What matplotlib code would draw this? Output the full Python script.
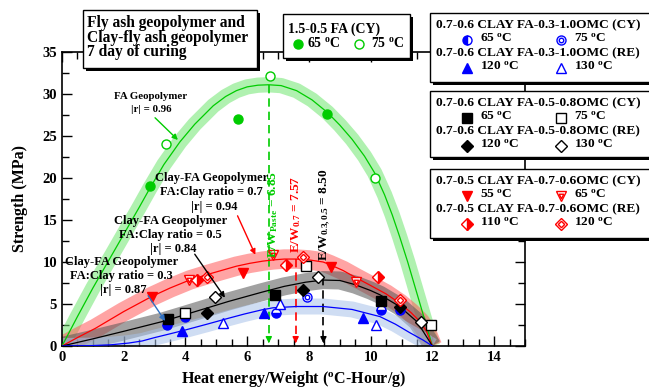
import matplotlib

matplotlib.use("Agg")
import matplotlib.pyplot as plt
from matplotlib.patches import Rectangle

plt.rcParams["font.family"] = ["Liberation Serif", "DejaVu Serif"]
plt.rcParams["font.weight"] = "bold"
plt.rcParams["axes.labelweight"] = "bold"
plt.rcParams["mathtext.fontset"] = "custom"
plt.rcParams["mathtext.rm"] = "Liberation Serif:bold"
plt.rcParams["mathtext.bf"] = "Liberation Serif:bold"
plt.rcParams["mathtext.it"] = "Liberation Serif:bold:italic"

# fitted curves
fa_fit_x = [0, 0.5, 1.0, 1.5, 2.0, 2.5, 2.85, 3.3, 3.82, 4.3, 4.9, 5.3, 5.65, 6.0, 6.35, 6.7,
            7.1, 7.6, 8.1, 8.6, 9.0, 9.4, 9.8, 10.13, 10.45, 10.7, 10.94, 11.2, 11.4, 11.6, 11.8, 12.0]
fa_fit_y = [0, 3.5, 6.9, 10.1, 13.3, 16.5, 18.8, 21.6, 24.3, 26.4, 28.6, 29.7, 30.4, 30.85, 31.05, 31.1,
            31.0, 30.4, 29.3, 27.8, 26.3, 24.6, 22.6, 20.6, 18.0, 15.6, 13.0, 10.0, 7.5, 5.0, 2.5, 0]
r07_fit_x = [0, 0.5, 1.08, 2.0, 2.91, 3.5, 4.14, 4.7, 5.22, 5.65, 6.08, 6.5, 6.84, 7.2, 7.6, 8.0,
             8.46, 8.67, 9.1, 9.54, 10.0, 10.5, 10.94, 11.3, 11.6, 11.8, 12.0]
r07_fit_y = [0, 1.0, 2.1, 4.1, 5.9, 6.9, 7.86, 8.5, 9.05, 9.5, 9.84, 10.1, 10.25, 10.35, 10.35, 10.25,
             10.0, 9.7, 9.0, 8.1, 7.2, 6.2, 5.1, 4.0, 2.9, 1.8, 0]
r05_fit_x = [0, 1.0, 2.0, 3.24, 4.14, 5.39, 6.47, 7.2, 7.9, 8.46, 9.0, 9.5, 10.0, 10.3, 10.94, 11.5, 12.0]
r05_fit_y = [0, 0.85, 1.75, 2.9, 3.9, 5.3, 6.4, 7.1, 7.6, 7.85, 7.8, 7.3, 6.6, 6.1, 4.7, 2.9, 0]
r03_fit_x = [0, 1.0, 1.6, 2.16, 2.6, 3.0, 3.5, 3.99, 4.7, 5.39, 5.9, 6.47, 6.84, 7.6, 8.46, 9.4,
             10.3, 10.8, 11.26, 11.7, 12.0]
r03_fit_y = [0, 0.05, 0.15, 0.35, 0.6, 1.0, 1.45, 1.9, 2.6, 3.3, 3.8, 4.3, 4.55, 4.7, 4.7, 4.35,
             3.5, 2.6, 1.6, 0.7, 0]

# measured points
fa65_x = [2.85, 5.71, 8.57]
fa65_y = [19.0, 27.0, 27.6]
fa75_x = [3.37, 6.73, 10.13]
fa75_y = [24.1, 32.1, 20.0]

blue_cy65_x = [3.4, 3.98, 6.93, 10.35, 10.94]
blue_cy65_y = [2.5, 3.5, 3.9, 4.3, 4.3]
blue_cy75_x = [7.95]
blue_cy75_y = [5.87]
blue_re120_x = [3.88, 6.54, 9.75]
blue_re120_y = [1.8, 3.9, 3.3]
blue_re130_x = [5.23, 7.05, 10.18]
blue_re130_y = [2.7, 5.0, 2.5]

black_cy65_x = [3.45, 6.89, 10.35]
black_cy65_y = [3.17, 6.07, 5.3]
black_cy75_x = [3.99, 7.92, 11.96]
black_cy75_y = [3.97, 9.5, 2.5]
black_re120_x = [4.69, 7.81, 10.94]
black_re120_y = [3.97, 6.67, 4.68]
black_re130_x = [4.96, 8.29, 11.64]
black_re130_y = [5.87, 8.25, 2.9]

red_cy55_x = [2.91, 5.87, 8.73]
red_cy55_y = [5.87, 8.7, 9.44]
red_cy65_x = [4.1, 6.84, 9.54]
red_cy65_y = [7.8, 10.8, 7.66]
red_re110_x = [4.37, 7.27, 10.24]
red_re110_y = [7.8, 9.64, 8.25]
red_re120_x = [4.69, 7.81, 10.94]
red_re120_y = [8.2, 10.6, 5.5]

# optimum heat energy per weight
ew_labels = [r"E/W$_{\rm Paste}$ = 6.85", r"E/W$_{\rm 0.7}$ = 7.57", r"E/W$_{\rm 0.3,0.5}$ = 8.50"]
ew_x = [6.7, 7.57, 8.47]
ew_top = [31.1, 10.4, 8.2]

GREEN = "#00cc00"
RED = "#ff0000"
BLUE = "#0000ff"


def mark(ax, x, y, marker, color, filled=True, inner=False, half=None, ms=6.5):
    kw = dict(ls="none", marker=marker, ms=ms, mec=color, mew=1.0, zorder=6)
    if half:
        ax.plot(x, y, fillstyle=half, mfc=color, mfcalt="white", **kw)
    else:
        ax.plot(x, y, mfc=color if filled else "white", **kw)
    if inner:
        kw["ms"] = ms * 0.5
        kw["zorder"] = 7
        ax.plot(x, y, mfc="white", **kw)


fig = plt.figure(figsize=(6.49, 3.92), dpi=100)
ax = fig.add_axes([62 / 649, 1 - 346 / 392, (525 - 62) / 649, (346 - 52) / 392])

bands = [
    (fa_fit_x, fa_fit_y, GREEN, "#70e670", 11),
    (r07_fit_x, r07_fit_y, RED, "#ff5a5a", 14),
    (r05_fit_x, r05_fit_y, "black", "#555555", 13),
    (r03_fit_x, r03_fit_y, BLUE, "#a8c2ea", 11.5),
]
for fx, fy, lc, bc, bw in bands:
    ax.plot(fx, fy, color=bc, lw=bw, alpha=0.55, solid_capstyle="butt",
            solid_joinstyle="round", zorder=2)
for fx, fy, lc, bc, bw in bands:
    ax.plot(fx, fy, color=lc, lw=0.9, zorder=4)

mark(ax, fa65_x, fa65_y, "o", GREEN)
mark(ax, fa75_x, fa75_y, "o", GREEN, filled=False)
mark(ax, blue_cy65_x, blue_cy65_y, "o", BLUE, half="bottom")
mark(ax, blue_cy75_x, blue_cy75_y, "o", BLUE, filled=False, inner=True)
mark(ax, blue_re120_x, blue_re120_y, "^", BLUE)
mark(ax, blue_re130_x, blue_re130_y, "^", BLUE, filled=False)
mark(ax, black_cy65_x, black_cy65_y, "s", "black")
mark(ax, black_cy75_x, black_cy75_y, "s", "black", filled=False)
mark(ax, black_re120_x, black_re120_y, "D", "black")
mark(ax, black_re130_x, black_re130_y, "D", "black", filled=False)
mark(ax, red_cy55_x, red_cy55_y, "v", RED)
mark(ax, red_cy65_x, red_cy65_y, "v", RED, filled=False, inner=True)
mark(ax, red_re110_x, red_re110_y, "D", RED, half="right")
mark(ax, red_re120_x, red_re120_y, "D", RED, filled=False, inner=True)

for label, x, top, c in zip(ew_labels, ew_x, ew_top, [GREEN, RED, "black"]):
    ax.plot([x, x], [top, 0.9], color=c, lw=1.2, ls=(0, (5, 3)), zorder=3)
    ax.annotate("", xy=(x, 0), xytext=(x, 1.0),
                arrowprops=dict(arrowstyle="-|>", color=c, lw=1.0, mutation_scale=9), zorder=3)
for label, x, c, dx in zip(ew_labels, ew_x, [GREEN, RED, "black"], [0.15, 0.03, 0.05]):
    ax.text(x + dx, 15.6, label, rotation=90, color=c, fontsize=9.6, ha="center", va="center", zorder=8)

# curve annotations
ax.text(2.86, 29.7, "FA Geopolymer", fontsize=7.8, ha="center", va="center")
ax.text(2.9, 28.2, "|r| = 0.96", fontsize=7.8, ha="center", va="center")
ax.annotate("", xy=(3.82, 24.3), xytext=(2.95, 27.4),
            arrowprops=dict(arrowstyle="-|>", color=GREEN, lw=1.0, mutation_scale=8))
notes = [
    ("0.7", "0.94", 4.85, 20.0, RED, (5.65, 15.8), (6.3, 10.56)),
    ("0.5", "0.84", 3.52, 14.92, "black", (4.25, 11.2), (5.33, 5.48)),
    ("0.3", "0.87", 1.92, 10.04, "#3070c0", (2.74, 6.27), (3.39, 2.7)),
]
for ratio, r, tx, ty, c, start, end in notes:
    ax.text(tx, ty, "Clay-FA Geopolymer", fontsize=9, ha="center", va="center", zorder=8)
    ax.text(tx, ty - 1.7, f"FA:Clay ratio = {ratio}", fontsize=9, ha="center", va="center", zorder=8)
    ax.text(tx + 0.08, ty - 3.4, f"|r| = {r}", fontsize=9, ha="center", va="center", zorder=8)
    ax.annotate("", xy=end, xytext=start,
                arrowprops=dict(arrowstyle="-|>", color=c, lw=1.0, mutation_scale=8), zorder=8)

ax.set_xlim(0, 15)
ax.set_ylim(0, 35)
ax.set_xticks(range(0, 15, 2))
ax.set_xticks([i * 0.5 for i in range(31)], minor=True)
ax.set_yticks(range(0, 36, 5))
ax.set_yticks([i * 2.5 for i in range(15)], minor=True)
ax.tick_params(which="both", direction="in", top=True, right=True, labelsize=10.5, width=1)
ax.tick_params(which="major", length=7)
ax.tick_params(which="minor", length=5)
for s in ax.spines.values():
    s.set_linewidth(1.2)
ax.set_xlabel(r"Heat energy/Weight ($^{\rm o}$C-Hour/g)", fontsize=11.5, labelpad=4)
ax.set_ylabel("Strength (MPa)", fontsize=11.5, labelpad=10)

# legend boxes in pixel coordinates on an overlay
ov = fig.add_axes([0, 0, 1, 1], zorder=5)
ov.set_xlim(0, 649)
ov.set_ylim(392, 0)
ov.axis("off")


def box(x0, y0, x1, y1):
    ov.add_patch(Rectangle((x0 + 3, y0 + 3), x1 - x0, y1 - y0, fc="black", ec="none"))
    ov.add_patch(Rectangle((x0, y0), x1 - x0, y1 - y0, fc="white", ec="black", lw=1))


def deg(t):
    return t + r" $^{\rm o}$C"


box(83, 10, 257, 68)
for i, line in enumerate(["Fly ash geopolymer and", "Clay-fly ash geopolymer", "7 day of curing"]):
    ov.text(87, 23 + i * 14.5, line, fontsize=11.2, ha="left", va="center")

box(283, 14, 410, 58)
ov.text(288, 29, "1.5-0.5 FA (CY)", fontsize=10, ha="left", va="center")
mark(ov, [298], [44], "o", GREEN)
ov.text(307, 43, deg("65"), fontsize=10, ha="left", va="center")
mark(ov, [359], [44], "o", GREEN, filled=False)
ov.text(371, 43, deg("75"), fontsize=10, ha="left", va="center")

legend_rows = [
    (13, 82, "0.7-0.6 CLAY FA-0.3-1.0OMC",
     [("o", BLUE, dict(half="left"), "65"), ("o", BLUE, dict(filled=False, inner=True), "75"),
      ("^", BLUE, {}, "120"), ("^", BLUE, dict(filled=False), "130")]),
    (91, 157, "0.7-0.6 CLAY FA-0.5-0.8OMC",
     [("s", "black", {}, "65"), ("s", "black", dict(filled=False), "75"),
      ("D", "black", {}, "120"), ("D", "black", dict(filled=False), "130")]),
    (169, 238, "0.7-0.5 CLAY FA-0.7-0.6OMC",
     [("v", RED, {}, "55"), ("v", RED, dict(filled=False, inner=True), "65"),
      ("D", RED, dict(half="right"), "110"), ("D", RED, dict(filled=False, inner=True), "120")]),
]
for top, bottom, name, entries in legend_rows:
    box(430, top, 660, bottom)
    for j, tag in enumerate(["(CY)", "(RE)"]):
        ty = top + 12.5 + j * 28
        ov.text(538, ty, f"{name} {tag}", fontsize=9.6, ha="center", va="center")
        for k in range(2):
            m, c, kw, t = entries[j * 2 + k]
            mx = 467 + k * 94
            mark(ov, [mx], [ty + 14], m, c, **kw)
            ov.text(mx + 13, ty + 13, deg(t), fontsize=9.6, ha="left", va="center")

fig.savefig("out.png", dpi=100, facecolor="white")
